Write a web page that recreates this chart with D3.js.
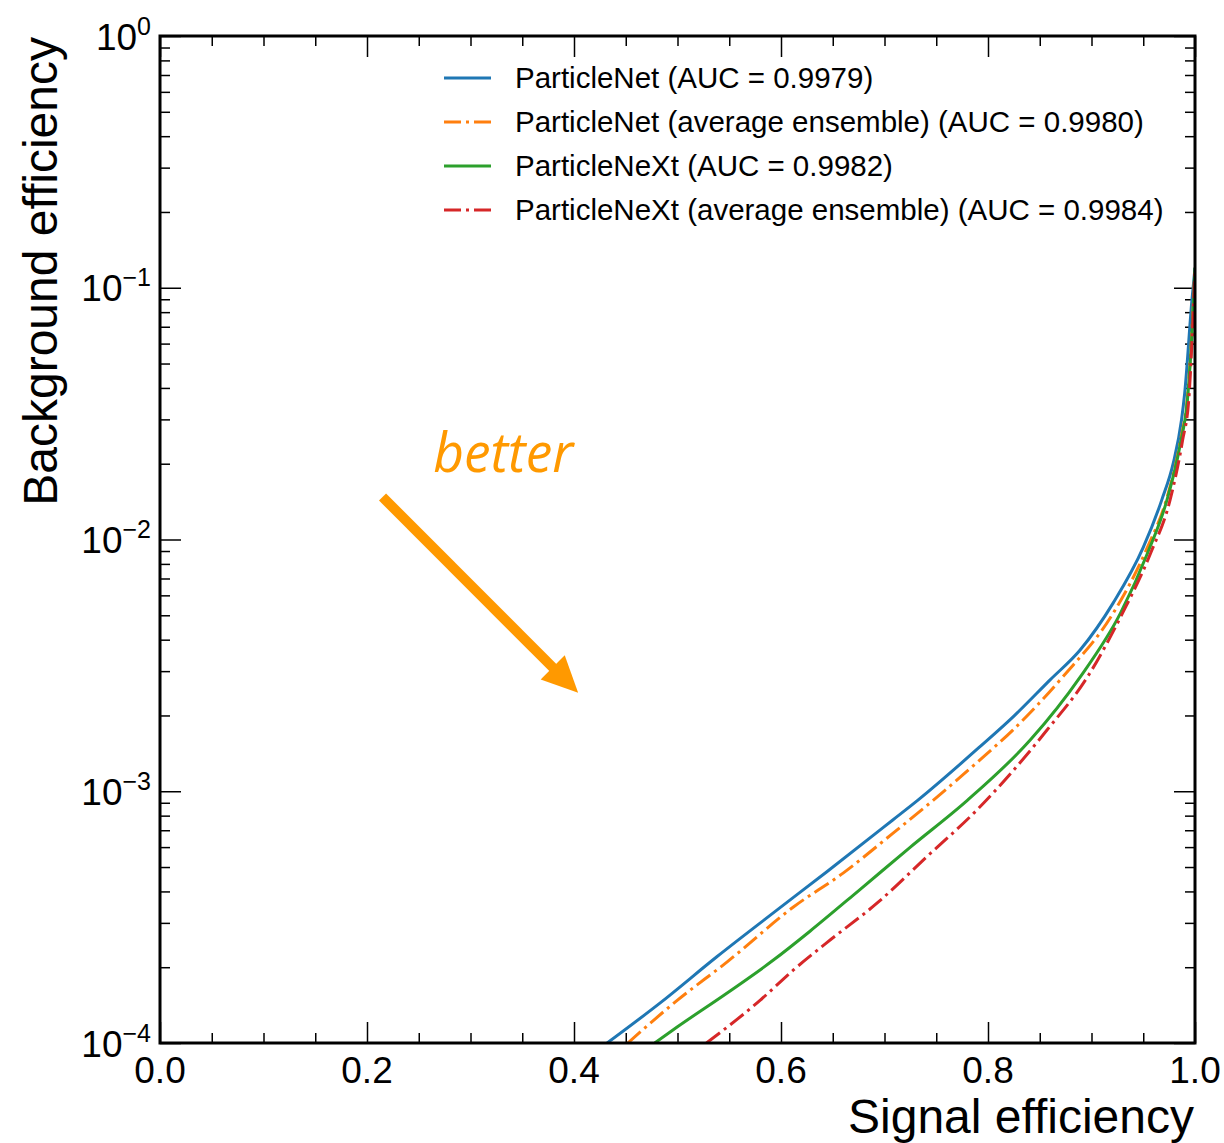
<!DOCTYPE html>
<html>
<head>
<meta charset="utf-8">
<script src="https://cdn.jsdelivr.net/npm/d3@7"></script>
<style>
  body { margin: 0; background: #fff; }
  svg { font-family: "Liberation Sans", Arial, sans-serif; }
  .tick line { stroke: #000; stroke-width: 1.5; }
</style>
</head>
<body>
<svg id="chart" width="1224" height="1143"></svg>
<script>
// ROC curves: signal efficiency -> background efficiency
var pnetSig  = [0.432, 0.483, 0.538, 0.596, 0.644, 0.708, 0.732, 0.792, 0.824, 0.860, 0.889, 0.921, 0.950, 0.968, 0.979, 0.987, 0.990, 0.997, 1.0];
var pnetBkg  = [1.0e-4, 1.44e-4, 2.2e-4, 3.37e-4, 4.78e-4, 7.69e-4, 9.2e-4, 1.5e-3, 1.97e-3, 2.77e-3, 3.64e-3, 5.6e-3, 9.3e-3, 1.44e-2, 2.01e-2, 2.99e-2, 3.8e-2, 8.9e-2, 0.12];
var pnetEnsSig = [0.452, 0.500, 0.548, 0.612, 0.660, 0.708, 0.747, 0.792, 0.824, 0.872, 0.921, 0.954, 0.973, 0.986, 0.993, 0.998, 1.0];
var pnetEnsBkg = [1.0e-4, 1.48e-4, 2.1e-4, 3.47e-4, 4.73e-4, 6.8e-4, 9.2e-4, 1.33e-3, 1.75e-3, 2.84e-3, 5.1e-3, 9.3e-3, 1.47e-2, 2.48e-2, 3.8e-2, 8.0e-2, 0.12];
var pnextSig = [0.478, 0.500, 0.548, 0.593, 0.628, 0.676, 0.725, 0.780, 0.841, 0.889, 0.928, 0.954, 0.973, 0.986, 0.993, 0.998, 1.0];
var pnextBkg = [1.0e-4, 1.16e-4, 1.58e-4, 2.14e-4, 2.78e-4, 4.06e-4, 6.0e-4, 9.2e-4, 1.6e-3, 2.84e-3, 5.1e-3, 8.8e-3, 1.44e-2, 2.42e-2, 3.7e-2, 7.8e-2, 0.12];
var pnextEnsSig = [0.528, 0.580, 0.612, 0.644, 0.693, 0.741, 0.789, 0.857, 0.896, 0.930, 0.957, 0.976, 0.988, 0.994, 0.998, 1.0];
var pnextEnsBkg = [1.0e-4, 1.48e-4, 1.95e-4, 2.5e-4, 3.6e-4, 5.5e-4, 8.4e-4, 1.75e-3, 2.84e-3, 5.1e-3, 8.8e-3, 1.44e-2, 2.48e-2, 3.6e-2, 7.5e-2, 0.12];

var labels = ["ParticleNet (AUC = 0.9979)",
              "ParticleNet (average ensemble) (AUC = 0.9980)",
              "ParticleNeXt (AUC = 0.9982)",
              "ParticleNeXt (average ensemble) (AUC = 0.9984)"];
var colors = ["#1f77b4", "#ff7f0e", "#2ca02c", "#d62728"];
var dashed = [false, true, false, true];

var xMajor = [0, 0.2, 0.4, 0.6, 0.8, 1.0];
var yMajor = [1e-4, 1e-3, 1e-2, 1e-1, 1];
var yExp   = [-4, -3, -2, -1, 0];

var series = [[pnetSig, pnetBkg], [pnetEnsSig, pnetEnsBkg], [pnextSig, pnextBkg], [pnextEnsSig, pnextEnsBkg]];

var svg = d3.select("#chart");
var L = 160, R = 1195, T = 36, B = 1043;

var x = d3.scaleLinear().domain([0, 1]).range([L, R]);
var y = d3.scaleLog().domain([1e-4, 1]).range([B, T]);

var xMinor = d3.range(0, 1.0001, 0.05).filter(function(v) { return Math.abs(v * 5 - Math.round(v * 5)) > 1e-6; });
var yMinor = [];
for (var e = -4; e < 0; e++) for (var m = 2; m <= 9; m++) yMinor.push(m * Math.pow(10, e));

function ticks(axis, vals, size, tx, ty) {
  var g = svg.append("g").attr("transform", "translate(" + tx + "," + ty + ")")
    .call(axis.tickValues(vals).tickSize(size).tickFormat(""));
  g.select(".domain").remove();
}
ticks(d3.axisBottom(x), xMajor, -21, 0, B);
ticks(d3.axisBottom(x), xMinor, -10, 0, B);
ticks(d3.axisTop(x), xMajor, -21, 0, T);
ticks(d3.axisTop(x), xMinor, -10, 0, T);
ticks(d3.axisLeft(y), yMajor, -21, L, 0);
ticks(d3.axisLeft(y), yMinor, -10, L, 0);
ticks(d3.axisRight(y), yMajor, -21, R, 0);
ticks(d3.axisRight(y), yMinor, -10, R, 0);

svg.append("defs").append("clipPath").attr("id", "clip")
  .append("rect").attr("x", L).attr("y", T).attr("width", R - L).attr("height", B - T);

var line = d3.line()
  .x(function(d) { return x(d[0]); })
  .y(function(d) { return y(d[1]); })
  .curve(d3.curveMonotoneX);

series.forEach(function(s, i) {
  var pts = s[0].map(function(v, k) { return [v, s[1][k]]; });
  svg.append("path")
    .attr("clip-path", "url(#clip)")
    .attr("d", line(pts))
    .attr("fill", "none")
    .attr("stroke", colors[i])
    .attr("stroke-width", 3)
    .attr("stroke-dasharray", dashed[i] ? "17,5,3,5" : null);
});

// frame
svg.append("rect").attr("x", L).attr("y", T).attr("width", R - L).attr("height", B - T)
  .attr("fill", "none").attr("stroke", "#000").attr("stroke-width", 3);

// x tick labels
svg.append("g").selectAll("text").data(xMajor).join("text")
  .attr("x", function(d) { return x(d); })
  .attr("y", 1083)
  .attr("text-anchor", "middle")
  .attr("font-size", 37)
  .text(function(d) { return d.toFixed(1); });

// y tick labels 10^n
yMajor.forEach(function(v, i) {
  var t = svg.append("text")
    .attr("x", 151).attr("y", y(v) + 13.5)
    .attr("text-anchor", "end")
    .attr("font-size", 37);
  t.append("tspan").text("10");
  t.append("tspan").attr("font-size", 25).attr("dy", -15)
    .text(yExp[i] < 0 ? "\u2212" + (-yExp[i]) : String(yExp[i]));
});

// axis titles
svg.append("text")
  .attr("x", R - 1).attr("y", 1133)
  .attr("text-anchor", "end")
  .attr("font-size", 48)
  .text("Signal efficiency");
svg.append("text")
  .attr("transform", "translate(57," + (T + 1) + ") rotate(-90)")
  .attr("text-anchor", "end")
  .attr("font-size", 48)
  .text("Background efficiency");

// legend
labels.forEach(function(lab, i) {
  var yy = 78 + i * 44;
  svg.append("line")
    .attr("x1", 444).attr("x2", 491).attr("y1", yy).attr("y2", yy)
    .attr("stroke", colors[i]).attr("stroke-width", 3)
    .attr("stroke-dasharray", dashed[i] ? "17,5,3,5" : null);
  svg.append("text")
    .attr("x", 515).attr("y", yy + 10)
    .attr("font-size", 29.5)
    .text(lab);
});

// "better" annotation (data coordinates)
var arrowFrom = [0.215, 0.01475];
var arrowTo = [0.404, 0.00246];
var textAt = [0.264, 0.0186];
var orange = "#ff9900";

var x0 = x(arrowFrom[0]), y0 = y(arrowFrom[1]);
var x1 = x(arrowTo[0]), y1 = y(arrowTo[1]);
var dx = x1 - x0, dy = y1 - y0, len = Math.sqrt(dx * dx + dy * dy);
var ux = dx / len, uy = dy / len, headL = 36, headW = 17;
var bx = x1 - ux * headL, by = y1 - uy * headL;
svg.append("line")
  .attr("x1", x0).attr("y1", y0).attr("x2", bx + ux * 2).attr("y2", by + uy * 2)
  .attr("stroke", orange).attr("stroke-width", 10);
svg.append("path")
  .attr("d", "M" + x1 + "," + y1 + "L" + (bx - uy * headW) + "," + (by + ux * headW) +
             "L" + (bx + uy * headW) + "," + (by - ux * headW) + "Z")
  .attr("fill", orange);
svg.append("text")
  .attr("x", x(textAt[0])).attr("y", y(textAt[1]))
  .attr("font-family", "'Open Sans', sans-serif")
  .attr("font-style", "italic")
  .attr("font-size", 55)
  .attr("textLength", 140)
  .attr("lengthAdjust", "spacingAndGlyphs")
  .attr("fill", orange)
  .text("better");
</script>
</body>
</html>
